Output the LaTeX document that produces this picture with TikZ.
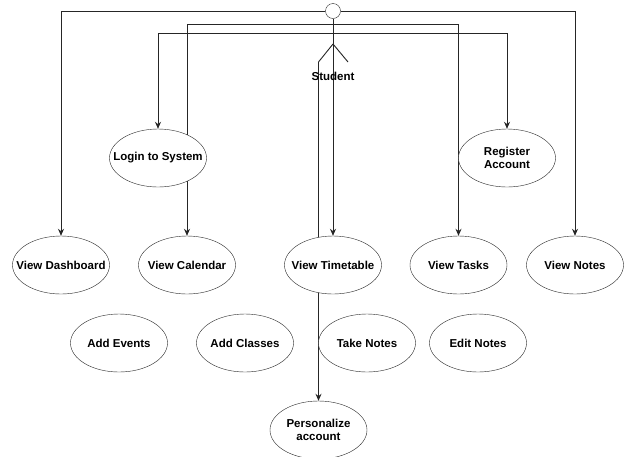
\documentclass[tikz,border=0pt]{standalone}
\usepackage{fontspec}
\setmainfont{Liberation Sans}
\usetikzlibrary{shapes.geometric,arrows.meta,backgrounds}

\begin{document}
\begin{tikzpicture}[x=1pt,y=-1pt,
	casetext/.style={align=center,inner sep=0pt,font=\fontsize{11.5}{13.5}\selectfont\bfseries},
	usecase/.style={draw=black!85,fill=white,ellipse,minimum width=97pt,minimum height=58pt,inner sep=0pt,label={[casetext]center:#1}},
	flow/.style={draw=black!85,line width=0.9pt,-{Stealth[length=7pt,width=6pt]}},
	stick/.style={draw=black!85,line width=0.9pt}]
	\useasboundingbox (0,0) rectangle (624,456);
	% actor
	\node[circle,draw=black!85,fill=white,minimum size=15pt,inner sep=0pt] (head) at (333,11) {};
	\node[casetext] (student) at (333,76) {Student};
	\coordinate (hip) at (333,44);
	\coordinate (lleg) at (318.5,62);
	\coordinate (rleg) at (348,62);
	\coordinate (hub1) at (333,24);
	\coordinate (hub2) at (333,33);
	% use cases
	\node[usecase={Login to System}] (login) at (158,158) {};
	\node[usecase={Register\\Account}] (register) at (507,158) {};
	\node[usecase={View Dashboard}] (dash) at (61,265) {};
	\node[usecase={View Calendar}] (cal) at (187,265) {};
	\node[usecase={View Timetable}] (time) at (333,265) {};
	\node[usecase={View Tasks}] (tasks) at (458.5,265) {};
	\node[usecase={View Notes}] (notes) at (575,265) {};
	\node[usecase={Add Events}] (events) at (119,343) {};
	\node[usecase={Add Classes}] (classes) at (245,343) {};
	\node[usecase={Take Notes}] (take) at (367,343) {};
	\node[usecase={Edit Notes}] (edit) at (478,343) {};
	\node[usecase={Personalize\\account}] (pers) at (318.5,430) {};
	% connectors
	\begin{scope}[on background layer]
		\draw[stick] (hip) -- (lleg);
		\draw[stick] (hip) -- (rleg);
		\draw[flow] (head) -- (time);
		\draw[flow] (lleg) -- (pers);
		\draw[flow] (head.west) -| (dash);
		\draw[flow] (head.east) -| (notes);
		\draw[flow] (hub1) -| (cal);
		\draw[flow] (hub1) -| (tasks);
		\draw[flow] (hub2) -| (login);
		\draw[flow] (hub2) -| (register);
	\end{scope}
\end{tikzpicture}
\end{document}
